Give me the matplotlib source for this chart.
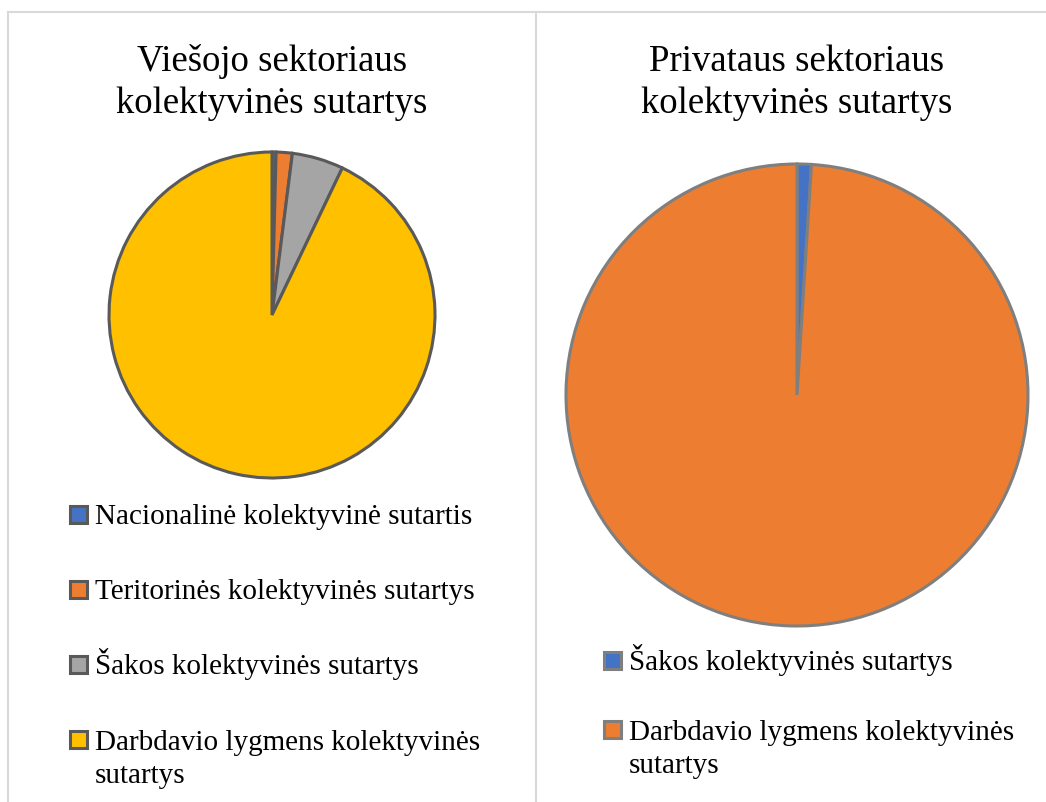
import matplotlib
matplotlib.use('Agg')
import matplotlib.pyplot as plt
from matplotlib.patches import Rectangle
from matplotlib.lines import Line2D

plt.rcParams['font.family'] = ['Liberation Serif', 'DejaVu Serif']

W, H = 1046, 803

# Viešojo sektoriaus kolektyvinės sutartys (shares, %)
pub_labels = ['Nacionalinė kolektyvinė sutartis',
              'Teritorinės kolektyvinės sutartys',
              'Šakos kolektyvinės sutartys',
              'Darbdavio lygmens kolektyvinės\nsutartys']
pub_values = [0.4, 1.6, 5.1, 92.9]
pub_colors = ['#4472C4', '#ED7D31', '#A5A5A5', '#FFC000']

# Privataus sektoriaus kolektyvinės sutartys (shares, %)
priv_labels = ['Šakos kolektyvinės sutartys',
               'Darbdavio lygmens kolektyvinės\nsutartys']
priv_values = [1.0, 99.0]
priv_colors = ['#4472C4', '#ED7D31']

titles = ['Viešojo sektoriaus\nkolektyvinės sutartys',
          'Privataus sektoriaus\nkolektyvinės sutartys']

fig = plt.figure(figsize=(W / 100, H / 100), dpi=100)


def fx(x):
    return x / W


def fy(y):
    return (H - y) / H


def panel(cx, cy, r, values, colors, edge, title, labels, lx, ly0, step):
    ax = fig.add_axes([fx(cx - r), fy(cy + r), 2 * r / W, 2 * r / H])
    ax.pie(values, colors=colors, startangle=90, counterclock=False, radius=1,
           wedgeprops=dict(edgecolor=edge, linewidth=2.2))
    ax.set_xlim(-1, 1)
    ax.set_ylim(-1, 1)
    ax.axis('off')

    # baseline of the last title line
    fig.text(fx(cx), fy(113), title, ha='center', va='baseline',
             fontsize=26.5, linespacing=1.28)

    for i, (lab, col) in enumerate(zip(labels, colors)):
        base = ly0 + i * step
        fig.add_artist(Rectangle((fx(lx), fy(base)), 17 / W, 17 / H,
                                 transform=fig.transFigure, facecolor=col,
                                 edgecolor=edge, linewidth=2.2))
        extra = lab.count('\n') * 34
        fig.text(fx(lx + 25), fy(base + extra), lab, ha='left', va='baseline',
                 fontsize=21, linespacing=1.34)


panel(272, 316, 163, pub_values, pub_colors, '#595959', titles[0],
      pub_labels, 70, 524, 75)
panel(797, 396, 231, priv_values, priv_colors, '#7F7F7F', titles[1],
      priv_labels, 604, 670, 69)

# frame lines
fc = '#D9D9D9'
fig.add_artist(Line2D([fx(8), fx(8)], [0, fy(13)], color=fc, lw=1.5))
fig.add_artist(Line2D([fx(8), 1], [fy(13), fy(13)], color=fc, lw=1.5))
fig.add_artist(Line2D([fx(536), fx(536)], [0, fy(13)], color=fc, lw=1.5))

fig.savefig('out.png', dpi=100)
